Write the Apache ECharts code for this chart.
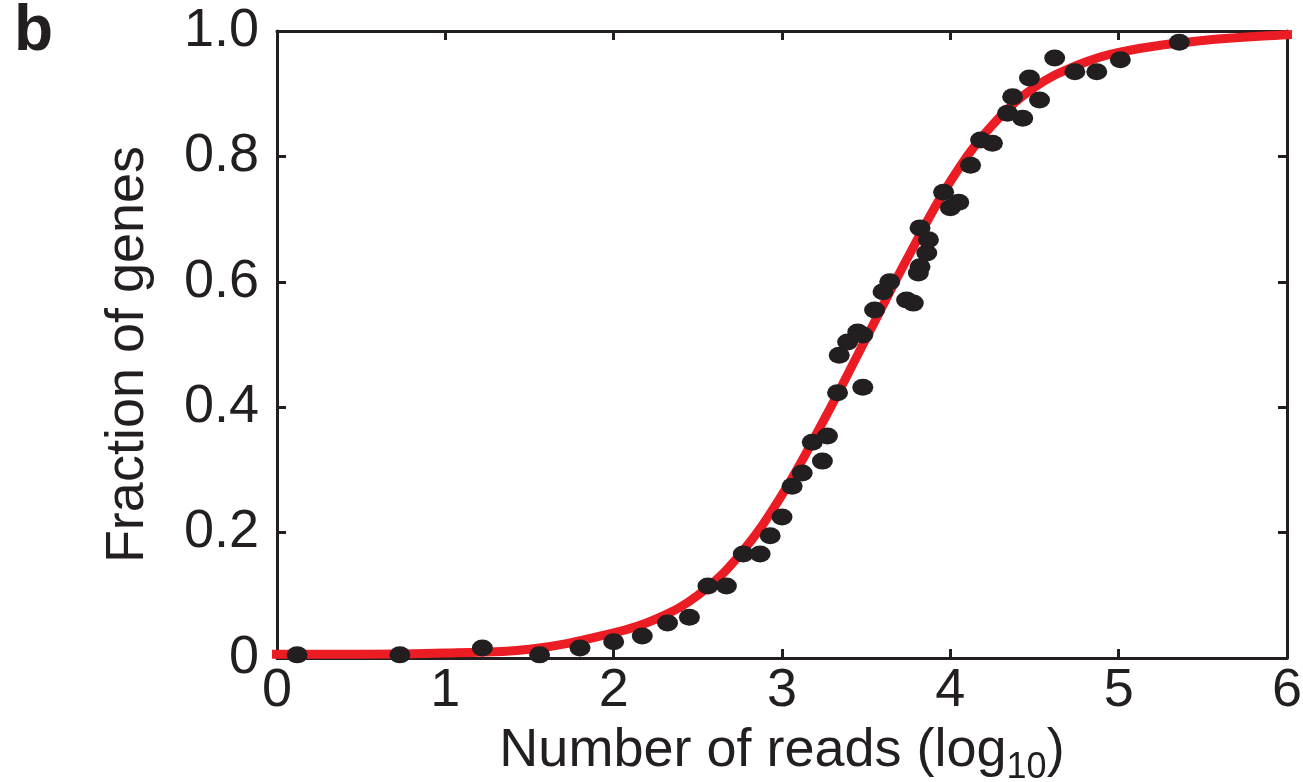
<!DOCTYPE html>
<html>
<head>
<meta charset="utf-8">
<script src="https://cdn.jsdelivr.net/npm/echarts@6/dist/echarts.min.js"></script>
<style>
    html, body { margin: 0; padding: 0; background: #fff; }
    #chart { width: 1303px; height: 782px; }
</style>
</head>
<body>
<div id="chart"></div>
<script>
    // 散点：基因数 (log10 reads, fraction of genes)
    const readsX = [0.12, 0.73, 1.22, 1.56, 1.80, 2.00, 2.17, 2.32, 2.45, 2.56, 2.67,
        2.77, 2.87, 2.93, 3.00, 3.06, 3.12, 3.18, 3.24, 3.27, 3.33, 3.48,
        3.34, 3.39, 3.45, 3.48, 3.55, 3.60, 3.64, 3.74, 3.78, 3.81, 3.82,
        3.86, 3.87, 3.82, 4.00, 4.05, 3.96, 4.12, 4.18, 4.25, 4.34, 4.43,
        4.37, 4.53, 4.47, 4.62, 4.74, 4.87, 5.01, 5.36]
    const fractionY = [0.005, 0.005, 0.016, 0.005, 0.016, 0.026, 0.035, 0.056, 0.065, 0.115, 0.115,
        0.166, 0.166, 0.195, 0.225, 0.274, 0.295, 0.344, 0.314, 0.354, 0.423, 0.432,
        0.483, 0.504, 0.520, 0.515, 0.555, 0.584, 0.600, 0.571, 0.566, 0.614, 0.624,
        0.646, 0.667, 0.686, 0.718, 0.727, 0.743, 0.786, 0.826, 0.821, 0.869, 0.861,
        0.895, 0.890, 0.925, 0.957, 0.935, 0.935, 0.954, 0.982]

    // 拟合曲线
    const fitX = [-0.1, 0, 0.5, 1, 1.5, 2, 2.25, 2.5, 2.75, 3, 3.25, 3.5, 3.75, 4, 4.25, 4.5, 4.75, 5, 5.5, 6, 6.1]
    const fitY = [0.006, 0.006, 0.006, 0.008, 0.014, 0.04, 0.062, 0.10, 0.165, 0.26, 0.38, 0.51, 0.64, 0.76, 0.85, 0.91, 0.945, 0.966, 0.985, 0.994, 0.995]

    const xTicks = ['0', '1', '2', '3', '4', '5', '6']
    const yTicks = ['0', '0.2', '0.4', '0.6', '0.8', '1.0']

    const ink = '#231f20'
    const font = "'Liberation Sans', Arial, sans-serif"

    const chart = echarts.init(document.getElementById('chart'))

    const tick = { show: true, inside: true, length: 9, lineStyle: { color: ink, width: 3 } }
    const line = { show: true, onZero: false, lineStyle: { color: ink, width: 3 } }

    chart.setOption({
        animation: false,
        graphic: [{
            type: 'text', left: 14, top: 0,
            style: { text: 'b', font: 'bold 64px ' + font, fill: ink }
        }],
        grid: { left: 277, right: 16, top: 31, bottom: 124, outerBoundsMode: 'none' },
        xAxis: [{
            type: 'value', min: 0, max: 6, interval: 1,
            axisLine: line, axisTick: tick, splitLine: { show: false },
            axisLabel: {
                color: ink, fontSize: 54, fontFamily: font, margin: 6,
                formatter: v => xTicks[v]
            },
            name: 'Number of reads (log{sub|10})',
            nameLocation: 'middle', nameGap: 58,
            nameTextStyle: {
                color: ink, fontSize: 54, fontFamily: font,
                rich: { sub: { fontSize: 36, fontFamily: font, color: ink, verticalAlign: 'bottom', padding: [34, 0, 0, 0] } }
            }
        }, {
            type: 'value', position: 'top', min: 0, max: 6, interval: 1,
            axisLine: line, axisTick: tick, axisLabel: { show: false }, splitLine: { show: false }
        }],
        yAxis: [{
            type: 'value', min: 0, max: 1, interval: 0.2,
            axisLine: line, axisTick: tick, splitLine: { show: false },
            axisLabel: {
                color: ink, fontSize: 54, fontFamily: font, margin: 18,
                formatter: v => yTicks[Math.round(v * 5)]
            },
            name: 'Fraction of genes',
            nameLocation: 'middle', nameGap: 122,
            nameTextStyle: { color: ink, fontSize: 54, fontFamily: font, padding: [0, 20, 0, 0] }
        }, {
            type: 'value', position: 'right', min: 0, max: 1, interval: 0.2,
            axisLine: line, axisTick: tick, axisLabel: { show: false }, splitLine: { show: false }
        }],
        series: [{
            type: 'line',
            data: fitX.map((x, i) => [x, fitY[i]]),
            smooth: 0.4,
            showSymbol: false,
            clip: true,
            lineStyle: { color: '#ec1c24', width: 9 },
            z: 2
        }, {
            type: 'scatter',
            data: readsX.map((x, i) => [x, fractionY[i]]),
            symbol: 'circle',
            symbolSize: [21, 17],
            itemStyle: { color: ink, opacity: 1 },
            z: 3
        }]
    })
</script>
</body>
</html>
